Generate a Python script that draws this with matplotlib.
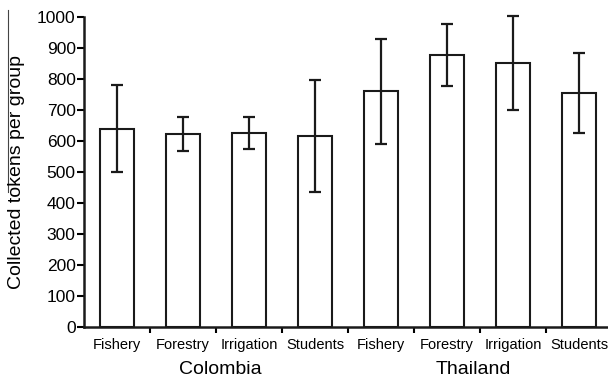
import matplotlib
matplotlib.use("Agg")
import matplotlib.pyplot as plt
from matplotlib.lines import Line2D
from matplotlib.transforms import blended_transform_factory

plt.rcParams['font.family'] = ['Liberation Sans', 'DejaVu Sans']

# Collected tokens per group (mean and error half-width)
groups = ["Fishery", "Forestry", "Irrigation", "Students",
          "Fishery", "Forestry", "Irrigation", "Students"]
countries = ["Colombia", "Thailand"]
means = [640, 623, 627, 616, 760, 877, 851, 755]
errors = [141, 55, 52, 180, 170, 100, 152, 128]
yticks = [0, 100, 200, 300, 400, 500, 600, 700, 800, 900, 1000]

fig = plt.figure(figsize=(6.08, 3.83), dpi=100)
ax = fig.add_axes([84 / 608, 1 - 327 / 383, 528 / 608, 310 / 383])

x = list(range(len(means)))
ax.bar(x, means, width=0.51, color="white", edgecolor="#1a1a1a", linewidth=1.5, zorder=2)
ax.errorbar(x, means, yerr=errors, fmt="none", ecolor="#1a1a1a",
            elinewidth=1.6, capsize=4, capthick=1.6, zorder=3, clip_on=False)

ax.set_xlim(-0.5, len(means) - 0.5)
ax.set_ylim(0, 1000)
ax.set_yticks(yticks)
ax.set_yticklabels([str(v) for v in yticks], fontsize=12.5)

# category names sit between separator ticks
ax.set_xticks([i + 0.5 for i in range(len(means) - 1)])
ax.set_xticklabels([])
ax.set_xticks(x, minor=True)
ax.set_xticklabels(groups, minor=True, fontsize=10.5)
ax.tick_params(axis="x", which="minor", length=0, pad=8)
ax.tick_params(axis="x", which="major", length=4, width=1.5, direction="out")
ax.tick_params(axis="y", length=5, width=1.5, direction="out", pad=1)

for side in ("top", "right"):
    ax.spines[side].set_visible(False)
for side in ("left", "bottom"):
    ax.spines[side].set_linewidth(1.8)
    ax.spines[side].set_color("#1a1a1a")

trans = blended_transform_factory(ax.transData, fig.transFigure)
ax.text(1.56, 1 - 369 / 383, countries[0], transform=trans, ha="center", va="center", fontsize=14)
ax.text(5.4, 1 - 369 / 383, countries[1], transform=trans, ha="center", va="center", fontsize=14)

fig.text(17 / 608, 1 - 172 / 383, "Collected tokens per group", rotation=90,
         ha="center", va="center", fontsize=14)

fig.add_artist(Line2D([8 / 608, 8 / 608], [1 - 10 / 383, 1 - 192 / 383],
                      transform=fig.transFigure, color="#444444", linewidth=0.8))

fig.savefig("out.png", dpi=100)
